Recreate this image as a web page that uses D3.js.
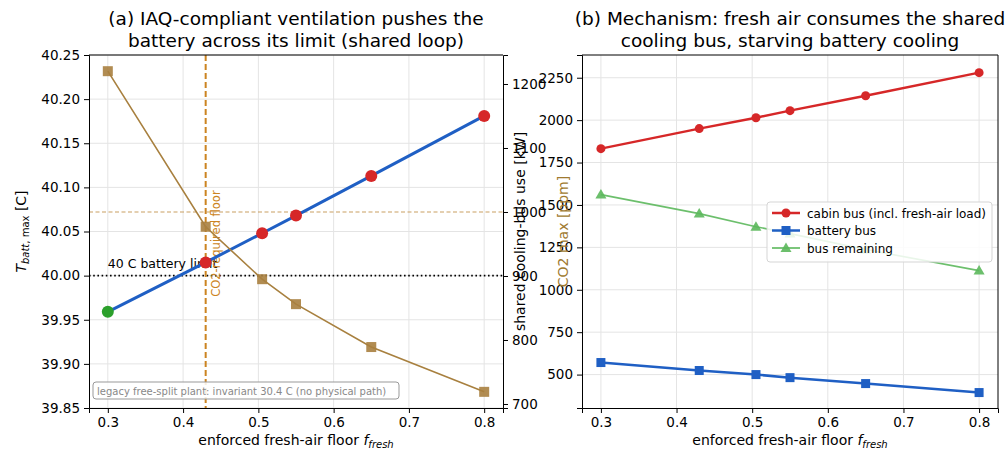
<!DOCTYPE html>
<html>
<head>
<meta charset="utf-8">
<script src="https://cdn.jsdelivr.net/npm/d3@7"></script>
<style>
  body { margin: 0; background: #fff; }
  svg { font-family: "DejaVu Sans", sans-serif; }
  .axis path, .axis line { stroke: #000; stroke-width: 1; }
  .grid line { stroke: #e4e4e4; stroke-width: 1; }
</style>
</head>
<body>
<div id="chart"></div>
<script>
// shared x values (enforced fresh-air floor)
const fFresh = [0.3, 0.43, 0.505, 0.55, 0.65, 0.8];
const xTicks = [0.3, 0.4, 0.5, 0.6, 0.7, 0.8];

// panel (a)
const tBattMax = [39.959, 40.015, 40.048, 40.068, 40.113, 40.181];
const co2Max = [1220, 977, 895, 856, 789, 719];
const tTicks = [39.85, 39.90, 39.95, 40.00, 40.05, 40.10, 40.15, 40.20, 40.25];
const co2Ticks = [700, 800, 900, 1000, 1100, 1200];
const battLimit = 40.0;
const co2Limit = 1000;
const co2Floor = 0.43;

// panel (b)
const cabinBus = [1832, 1950, 2014, 2056, 2144, 2280];
const batteryBus = [571, 524, 500, 482, 447, 394];
const busRemaining = [1561, 1449, 1372, 1331, 1237, 1113];
const busTicks = [500, 750, 1000, 1250, 1500, 1750, 2000, 2250];

const W = 1008, H = 455;
const svg = d3.select("#chart").append("svg").attr("width", W).attr("height", H);

const pTop = 55, pBottom = 408;
const tickFont = 13.5, labelFont = 14;

function styleAxis(g) {
    g.selectAll("text").attr("font-size", tickFont).attr("font-family", "DejaVu Sans").attr("fill", "#000");
}

// ---------- panel (a) ----------
const xa = d3.scaleLinear().domain([0.275, 0.825]).range([89, 503]);
const ya = d3.scaleLinear().domain([39.85, 40.25]).range([pBottom, pTop]);
const yc = d3.scaleLinear().domain([693.75, 1245.3]).range([pBottom, pTop]);

const ga = svg.append("g");

// grid
ga.append("g").attr("class", "grid").selectAll("line").data(xTicks).enter().append("line")
    .attr("x1", d => xa(d)).attr("x2", d => xa(d)).attr("y1", pTop).attr("y2", pBottom);
ga.append("g").attr("class", "grid").selectAll("line").data(tTicks).enter().append("line")
    .attr("x1", 89).attr("x2", 503).attr("y1", d => ya(d)).attr("y2", d => ya(d));

// battery limit
ga.append("line")
    .attr("x1", 89).attr("x2", 503).attr("y1", ya(battLimit)).attr("y2", ya(battLimit))
    .attr("stroke", "#000").attr("stroke-width", 1.6).attr("stroke-dasharray", "1.6,2.6");
ga.append("text").attr("x", xa(0.3)).attr("y", ya(battLimit) - 8)
    .attr("font-size", 12.5).text("40 C battery limit");

// CO2 floor + CO2 limit
ga.append("line")
    .attr("x1", xa(co2Floor)).attr("x2", xa(co2Floor)).attr("y1", pTop).attr("y2", pBottom)
    .attr("stroke", "#cc8421").attr("stroke-width", 2).attr("stroke-dasharray", "6,3");
ga.append("text")
    .attr("transform", `translate(${xa(co2Floor) + 14},${ya(39.976)}) rotate(-90)`)
    .attr("font-size", 11.5).attr("fill", "#cc8421").text("CO2-required floor");
ga.append("line")
    .attr("x1", 89).attr("x2", 503).attr("y1", yc(co2Limit)).attr("y2", yc(co2Limit))
    .attr("stroke", "#c9a062").attr("stroke-width", 1.1).attr("stroke-dasharray", "4,2.5");

// battery temperature
ga.append("path").datum(fFresh)
    .attr("fill", "none").attr("stroke", "#1f5fc4").attr("stroke-width", 3)
    .attr("d", d3.line().x(d => xa(d)).y((d, i) => ya(tBattMax[i])));
ga.selectAll(".tb").data(fFresh).enter().append("circle")
    .attr("cx", d => xa(d)).attr("cy", (d, i) => ya(tBattMax[i])).attr("r", 6)
    .attr("fill", (d, i) => tBattMax[i] > battLimit ? "#d62728" : "#2ca02c");

// CO2 series on twin axis
ga.append("path").datum(fFresh)
    .attr("fill", "none").attr("stroke", "#a8803f").attr("stroke-width", 1.6)
    .attr("d", d3.line().x(d => xa(d)).y((d, i) => yc(co2Max[i])));
ga.selectAll(".co").data(fFresh).enter().append("rect")
    .attr("x", d => xa(d) - 5).attr("y", (d, i) => yc(co2Max[i]) - 5)
    .attr("width", 10).attr("height", 10).attr("fill", "#a8803f").attr("opacity", 0.9);

// legacy note
const note = ga.append("g");
note.append("rect").attr("x", 93).attr("y", 382).attr("width", 306).attr("height", 17)
    .attr("rx", 3).attr("fill", "#fff").attr("fill-opacity", 0.85)
    .attr("stroke", "#999").attr("stroke-width", 1);
note.append("text").attr("x", 97).attr("y", 394.5).attr("font-size", 10).attr("fill", "#888")
    .text("legacy free-split plant: invariant 30.4 C (no physical path)");

// axes
ga.append("g").attr("class", "axis").attr("transform", `translate(0,${pBottom})`)
    .call(d3.axisBottom(xa).tickValues(xTicks).tickSize(5).tickPadding(4).tickFormat(d3.format(".1f")))
    .call(styleAxis);
ga.append("g").attr("class", "axis").attr("transform", "translate(89,0)")
    .call(d3.axisLeft(ya).tickValues(tTicks).tickSize(5).tickPadding(4).tickFormat(d3.format(".2f")))
    .call(styleAxis);
ga.append("g").attr("class", "axis").attr("transform", "translate(503,0)")
    .call(d3.axisRight(yc).tickValues(co2Ticks).tickSize(5).tickPadding(4).tickFormat(d3.format("d")))
    .call(styleAxis);
ga.append("line").attr("x1", 89).attr("x2", 503).attr("y1", pTop).attr("y2", pTop).attr("stroke", "#000");

// titles and labels
const ta = ga.append("text").attr("x", 296).attr("y", 25).attr("text-anchor", "middle").attr("font-size", 18.5);
ta.append("tspan").attr("x", 296).text("(a) IAQ-compliant ventilation pushes the");
ta.append("tspan").attr("x", 296).attr("dy", 22).text("battery across its limit (shared loop)");

const xla = ga.append("text").attr("x", 296).attr("y", 445).attr("text-anchor", "middle").attr("font-size", labelFont);
xla.append("tspan").text("enforced fresh-air floor  ");
xla.append("tspan").attr("font-style", "italic").text("f");
xla.append("tspan").attr("font-style", "italic").attr("font-size", 10).attr("dy", 3).text("fresh");

const yla = ga.append("text").attr("transform", `translate(26,${(pTop + pBottom) / 2}) rotate(-90)`)
    .attr("text-anchor", "middle").attr("font-size", labelFont);
yla.append("tspan").attr("font-style", "italic").text("T");
yla.append("tspan").attr("font-style", "italic").attr("font-size", 10).attr("dy", 3).text("batt");
yla.append("tspan").attr("font-size", 10).text(", max");
yla.append("tspan").attr("dy", -3).text(" [C]");

// ---------- panel (b) ----------
const xb = d3.scaleLinear().domain([0.275, 0.825]).range([582, 998]);
const yb = d3.scaleLinear().domain([303, 2384]).range([pBottom, pTop]);

const gb = svg.append("g");

gb.append("g").attr("class", "grid").selectAll("line").data(xTicks).enter().append("line")
    .attr("x1", d => xb(d)).attr("x2", d => xb(d)).attr("y1", pTop).attr("y2", pBottom);
gb.append("g").attr("class", "grid").selectAll("line").data(busTicks).enter().append("line")
    .attr("x1", 582).attr("x2", 998).attr("y1", d => yb(d)).attr("y2", d => yb(d));

const series = [
    {name: "cabin bus (incl. fresh-air load)", values: cabinBus, color: "#d62728", width: 2.5, marker: "circle"},
    {name: "battery bus", values: batteryBus, color: "#1f5fc4", width: 2.5, marker: "square"},
    {name: "bus remaining", values: busRemaining, color: "#5cb85c", width: 1.6, marker: "triangle"}
];

function marker(g, type, x, y, color, opacity) {
    if (type === "circle") {
        g.append("circle").attr("cx", x).attr("cy", y).attr("r", 4.5).attr("fill", color);
    } else if (type === "square") {
        g.append("rect").attr("x", x - 4.5).attr("y", y - 4.5).attr("width", 9).attr("height", 9).attr("fill", color);
    } else {
        g.append("path").attr("d", `M${x},${y - 5.5}L${x + 5.5},${y + 4}L${x - 5.5},${y + 4}Z`)
            .attr("fill", color).attr("opacity", opacity);
    }
}

series.forEach(s => {
    const op = s.marker === "triangle" ? 0.9 : 1;
    gb.append("path").datum(fFresh)
        .attr("fill", "none").attr("stroke", s.color).attr("stroke-width", s.width).attr("opacity", op)
        .attr("d", d3.line().x(d => xb(d)).y((d, i) => yb(s.values[i])));
    fFresh.forEach((d, i) => marker(gb, s.marker, xb(d), yb(s.values[i]), s.color, op));
});

// legend
const lg = gb.append("g");
lg.append("rect").attr("x", 767).attr("y", 202).attr("width", 225).attr("height", 60)
    .attr("rx", 3).attr("fill", "#fff").attr("fill-opacity", 0.85).attr("stroke", "#d5d5d5");
series.forEach((s, i) => {
    const y = 213 + i * 17.5;
    lg.append("line").attr("x1", 772).attr("x2", 800).attr("y1", y).attr("y2", y)
        .attr("stroke", s.color).attr("stroke-width", s.width);
    marker(lg, s.marker, 786, y, s.color, 0.9);
    lg.append("text").attr("x", 807).attr("y", y + 4.5).attr("font-size", 12).text(s.name);
});

gb.append("g").attr("class", "axis").attr("transform", `translate(0,${pBottom})`)
    .call(d3.axisBottom(xb).tickValues(xTicks).tickSize(5).tickPadding(4).tickFormat(d3.format(".1f")))
    .call(styleAxis);
gb.append("g").attr("class", "axis").attr("transform", "translate(582,0)")
    .call(d3.axisLeft(yb).tickValues(busTicks).tickSize(5).tickPadding(4).tickFormat(d3.format("d")))
    .call(styleAxis);
gb.append("line").attr("x1", 582).attr("x2", 998).attr("y1", pTop).attr("y2", pTop).attr("stroke", "#000");
gb.append("line").attr("x1", 998).attr("x2", 998).attr("y1", pTop).attr("y2", pBottom).attr("stroke", "#000");

const tb = gb.append("text").attr("x", 790).attr("y", 25).attr("text-anchor", "middle").attr("font-size", 18.5);
tb.append("tspan").attr("x", 790).text("(b) Mechanism: fresh air consumes the shared");
tb.append("tspan").attr("x", 790).attr("dy", 22).text("cooling bus, starving battery cooling");

const xlb = gb.append("text").attr("x", 790).attr("y", 445).attr("text-anchor", "middle").attr("font-size", labelFont);
xlb.append("tspan").text("enforced fresh-air floor  ");
xlb.append("tspan").attr("font-style", "italic").text("f");
xlb.append("tspan").attr("font-style", "italic").attr("font-size", 10).attr("dy", 3).text("fresh");

gb.append("text").attr("transform", `translate(525,${(pTop + pBottom) / 2}) rotate(-90)`)
    .attr("text-anchor", "middle").attr("font-size", labelFont).text("shared cooling-bus use [kW]");

// twin-axis label of panel (a), drawn last so it overlaps like the reference
svg.append("text").attr("transform", `translate(568,${(pTop + pBottom) / 2}) rotate(-90)`)
    .attr("text-anchor", "middle").attr("font-size", labelFont).attr("fill", "#a07a30").text("CO2 max [ppm]");
</script>
</body>
</html>
